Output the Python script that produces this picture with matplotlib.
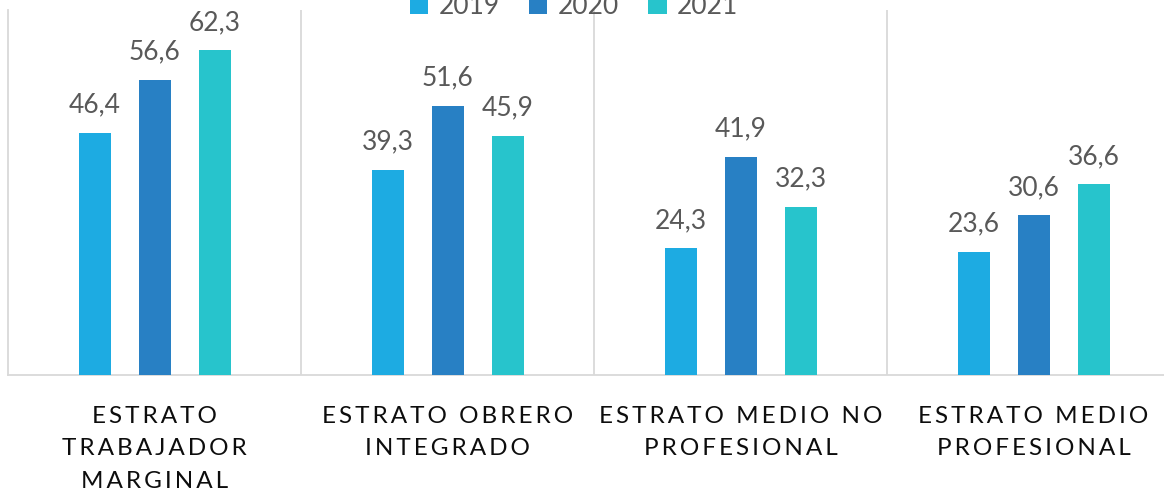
import matplotlib
matplotlib.use("Agg")
import matplotlib.pyplot as plt
import numpy as np

# categories and series values
categories = [
    "ESTRATO\nTRABAJADOR\nMARGINAL",
    "ESTRATO OBRERO\nINTEGRADO",
    "ESTRATO MEDIO NO\nPROFESIONAL",
    "ESTRATO MEDIO\nPROFESIONAL",
]
years = ["2019", "2020", "2021"]
v2019 = [46.4, 39.3, 24.3, 23.6]
v2020 = [56.6, 51.6, 41.9, 30.6]
v2021 = [62.3, 45.9, 32.3, 36.6]

colors = ["#1DABE2", "#2880C4", "#27C4CC"]
GRAY = "#595959"
GRID = "#D9D9D9"

plt.rcParams["font.family"] = ["Lato", "DejaVu Sans"]


def tracked(label, gap="\u200a\u200a"):
    # the reference uses wide letter spacing on the category labels
    return "\n".join(gap.join(line) for line in label.split("\n"))


W, H = 1164, 495
fig = plt.figure(figsize=(W / 100, H / 100), dpi=100)
left_px, bottom_px, top_px = 8, 375, 10
ax = fig.add_axes([left_px / W, 1 - bottom_px / H, 1 - left_px / W, (bottom_px - top_px) / H])

x = np.arange(len(categories))
cat_px = 293.0
width = 32 / cat_px
offset = 60 / cat_px

for i, (vals, yr) in enumerate(zip([v2019, v2020, v2021], years)):
    bars = ax.bar(x + (i - 1) * offset, vals, width, color=colors[i], label=yr, zorder=3)
    for b, v in zip(bars, vals):
        ax.annotate(f"{v:.1f}".replace(".", ","),
                    (b.get_x() + b.get_width() / 2, b.get_height()),
                    xytext=(0, 11), textcoords="offset points",
                    ha="center", va="bottom", fontsize=19, color=GRAY)

ax.set_ylim(0, 70)
ax.set_xlim(-0.5, -0.5 + (W - left_px) / cat_px)

# category separators
for s in np.arange(len(categories)) + 0.5:
    ax.axvline(s, color=GRID, lw=1.3, zorder=1)

for side in ("top", "right"):
    ax.spines[side].set_visible(False)
ax.spines["left"].set_color(GRID)
ax.spines["left"].set_linewidth(1.3)
ax.spines["bottom"].set_color(GRID)
ax.spines["bottom"].set_linewidth(1.3)

ax.set_yticks([])
ax.set_xticks(x)
ax.set_xticklabels([tracked(c) for c in categories], fontsize=17.5,
                   color="#0D0D0D", linespacing=1.7)
ax.tick_params(axis="x", length=0, pad=22)

fig.legend(loc="center", bbox_to_anchor=(574 / W, 1 - 6 / H), ncol=3, frameon=False,
           fontsize=19, labelcolor=GRAY, handlelength=0.7, handleheight=0.7,
           handletextpad=0.4, columnspacing=1.1)

fig.savefig("out.png", dpi=100)
